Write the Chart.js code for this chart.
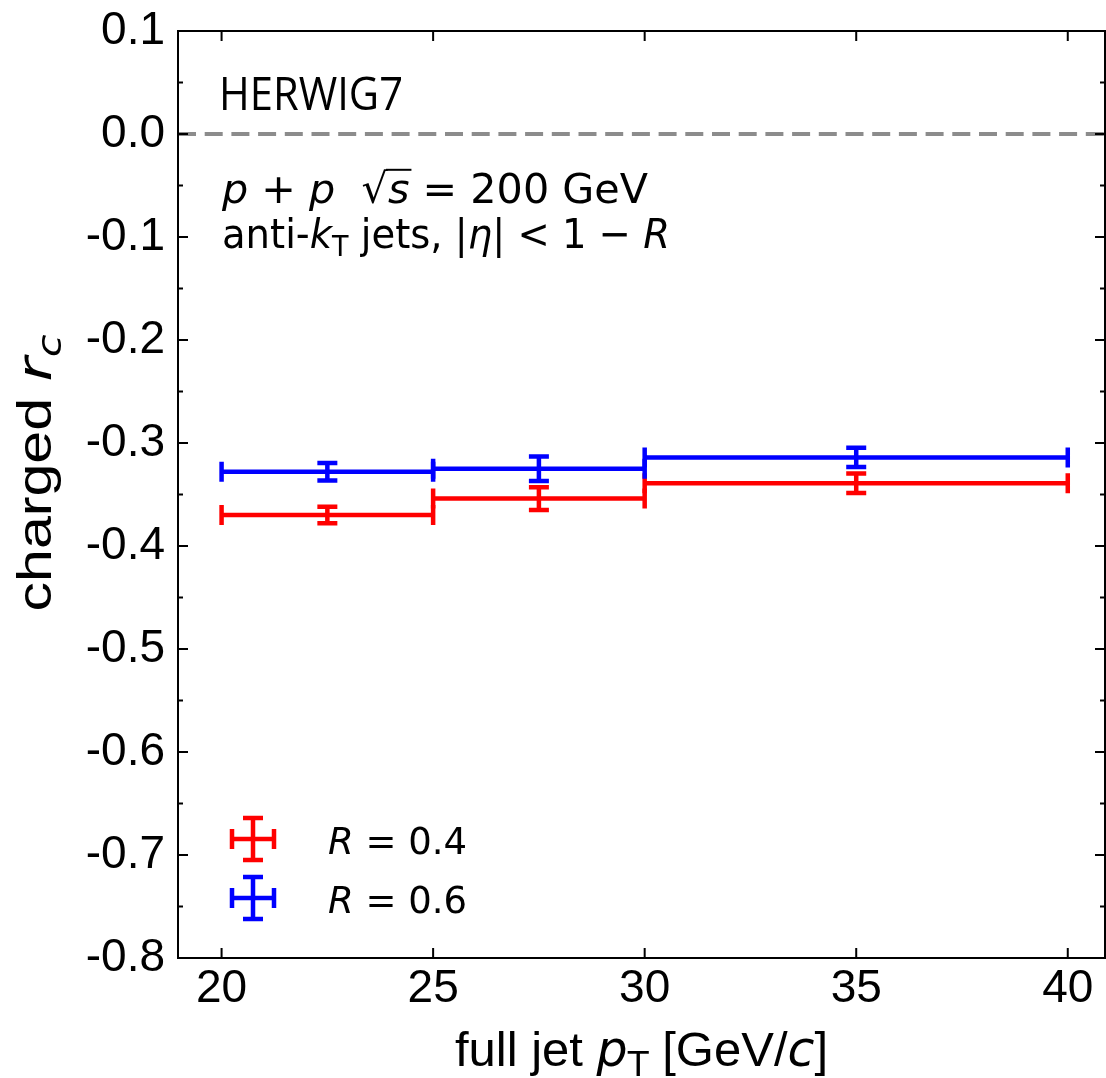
<!DOCTYPE html>
<html>
<head>
<meta charset="utf-8">
<script src="https://cdn.jsdelivr.net/npm/chart.js@4.4.1/dist/chart.umd.min.js"></script>
<style>
  html, body { margin: 0; padding: 0; background: #fff; }
</style>
</head>
<body>
<canvas id="chart" width="1106" height="1078"></canvas>
<script>
// full jet pT bins [GeV/c]
const binLow = [20, 25, 30];
const binHigh = [25, 30, 40];
const binCenter = [22.5, 27.5, 35];

// charged r_c, HERWIG7
const rc04 = [-0.370, -0.354, -0.339];
const rc04Err = [0.008, 0.011, 0.0095];
const rc06 = [-0.328, -0.325, -0.314];
const rc06Err = [0.0085, 0.012, 0.0094];

// axes
const xTicks = [20, 25, 30, 35, 40];
const yTicks = [0.1, 0.0, -0.1, -0.2, -0.3, -0.4, -0.5, -0.6, -0.7, -0.8];
const yMinorTicks = [0.05, -0.05, -0.15, -0.25, -0.35, -0.45, -0.55, -0.65, -0.75];

const SANS = "'Liberation Sans', Arial, Helvetica, sans-serif";
const MATH = "'DejaVu Sans', sans-serif";

const makeSeries = (ys, errs) => binCenter.map((x, i) => ({
  x: x, y: ys[i], xlo: binLow[i], xhi: binHigh[i], err: errs[i]
}));

// draw a row of text pieces: {t, it, sub, fam}
function richWidth(ctx, segs, size) {
  let w = 0;
  segs.forEach(s => {
    const px = s.sub ? size * 0.7 : size;
    ctx.font = (s.it ? 'italic ' : '') + px + 'px ' + (s.fam || MATH);
    w += ctx.measureText(s.t).width;
  });
  return w;
}
function drawRich(ctx, segs, x, y, size, align, fitWidth) {
  const total = richWidth(ctx, segs, size);
  const sx = fitWidth ? fitWidth / total : 1;
  ctx.save();
  ctx.translate(x, y);
  ctx.scale(sx, 1);
  let cx = align === 'center' ? -total / 2 : 0;
  ctx.textAlign = 'left';
  ctx.textBaseline = 'alphabetic';
  segs.forEach(s => {
    const px = s.sub ? size * 0.7 : size;
    ctx.font = (s.it ? 'italic ' : '') + px + 'px ' + (s.fam || MATH);
    const dy = s.sub ? size * 0.2 : 0;
    ctx.fillText(s.t, cx, dy);
    const w = ctx.measureText(s.t).width;
    if (s.over) {
      ctx.lineWidth = 2;
      ctx.beginPath();
      ctx.moveTo(cx - 2, -size * 0.80);
      ctx.lineTo(cx + w + 2, -size * 0.80);
      ctx.stroke();
    }
    cx += w;
  });
  ctx.restore();
}

function errorBar(ctx, xs, ys, d, color) {
  const x0 = xs.getPixelForValue(d.xlo), x1 = xs.getPixelForValue(d.xhi);
  const xc = xs.getPixelForValue(d.x), yc = ys.getPixelForValue(d.y);
  const ylo = ys.getPixelForValue(d.y - d.err), yhi = ys.getPixelForValue(d.y + d.err);
  ctx.strokeStyle = color;
  ctx.lineWidth = 4.5;
  ctx.beginPath();
  ctx.moveTo(x0, yc); ctx.lineTo(x1, yc);
  ctx.moveTo(x0, yc - 10); ctx.lineTo(x0, yc + 10);
  ctx.moveTo(x1, yc - 10); ctx.lineTo(x1, yc + 10);
  ctx.moveTo(xc, ylo); ctx.lineTo(xc, yhi);
  ctx.moveTo(xc - 10, ylo); ctx.lineTo(xc + 10, ylo);
  ctx.moveTo(xc - 10, yhi); ctx.lineTo(xc + 10, yhi);
  ctx.stroke();
}

const errorBarPlugin = {
  id: 'errorBars',
  beforeDatasetsDraw(chart) {
    const { ctx, chartArea: a, scales: { y } } = chart;
    const y0 = y.getPixelForValue(0);
    ctx.save();
    ctx.strokeStyle = '#8c8c8c';
    ctx.lineWidth = 4;
    ctx.setLineDash([18, 8.7]);
    ctx.beginPath();
    ctx.moveTo(a.left, y0); ctx.lineTo(a.right, y0);
    ctx.stroke();
    ctx.restore();
  },
  afterDatasetsDraw(chart) {
    const { ctx, chartArea: a, scales: { x, y } } = chart;
    ctx.save();
    chart.data.datasets.forEach(ds => {
      ds.data.forEach(d => errorBar(ctx, x, y, d, ds.borderColor));
    });

    // frame + inward ticks
    ctx.strokeStyle = '#000';
    ctx.lineWidth = 2;
    ctx.strokeRect(a.left, a.top, a.right - a.left, a.bottom - a.top);
    ctx.beginPath();
    xTicks.forEach(v => {
      const px = x.getPixelForValue(v);
      ctx.moveTo(px, a.bottom); ctx.lineTo(px, a.bottom - 10);
      ctx.moveTo(px, a.top); ctx.lineTo(px, a.top + 10);
    });
    yTicks.forEach(v => {
      const py = y.getPixelForValue(v);
      ctx.moveTo(a.left, py); ctx.lineTo(a.left + 10, py);
      ctx.moveTo(a.right, py); ctx.lineTo(a.right - 10, py);
    });
    yMinorTicks.forEach(v => {
      const py = y.getPixelForValue(v);
      ctx.moveTo(a.left, py); ctx.lineTo(a.left + 5, py);
      ctx.moveTo(a.right, py); ctx.lineTo(a.right - 5, py);
    });
    ctx.stroke();

    // axis titles
    ctx.fillStyle = '#000';
    ctx.strokeStyle = '#000';
    drawRich(ctx, [
      { t: 'full jet ', fam: SANS },
      { t: 'p', it: true },
      { t: 'T', sub: true },
      { t: ' [GeV/', fam: SANS },
      { t: 'c', it: true },
      { t: ']', fam: SANS }
    ], (a.left + a.right) / 2, 1066, 49, 'center');

    ctx.save();
    ctx.translate(51, 473);
    ctx.rotate(-Math.PI / 2);
    drawRich(ctx, [
      { t: 'charged ', fam: SANS },
      { t: 'r', it: true },
      { t: 'c', it: true, sub: true }
    ], 0, 0, 48, 'center', 277);
    ctx.restore();

    // annotations
    ctx.font = "45px 'Open Sans', sans-serif";
    ctx.textAlign = 'left';
    ctx.textBaseline = 'alphabetic';
    const hw = ctx.measureText('HERWIG7').width;
    ctx.save();
    ctx.translate(219, 110);
    ctx.scale(184 / hw, 1);
    ctx.fillText('HERWIG7', 0, 0);
    ctx.restore();
    drawRich(ctx, [
      { t: 'p', it: true }, { t: ' + ' }, { t: 'p', it: true }, { t: '  √' },
      { t: 's', it: true, over: true }, { t: ' = 200 GeV' }
    ], 222, 203, 41.5, 'left', 426);
    drawRich(ctx, [
      { t: 'anti-' }, { t: 'k', it: true }, { t: 'T', sub: true }, { t: ' jets, |' },
      { t: 'η', it: true }, { t: '| < 1 − ' }, { t: 'R', it: true }
    ], 222, 248, 41.5, 'left', 448);

    // legend
    const legendY = [839, 898];
    chart.data.datasets.forEach((ds, i) => {
      const cy = legendY[i], cx = 253;
      ctx.strokeStyle = ds.borderColor;
      ctx.lineWidth = 4.5;
      ctx.beginPath();
      ctx.moveTo(cx - 21, cy); ctx.lineTo(cx + 21, cy);
      ctx.moveTo(cx - 21, cy - 10); ctx.lineTo(cx - 21, cy + 10);
      ctx.moveTo(cx + 21, cy - 10); ctx.lineTo(cx + 21, cy + 10);
      ctx.moveTo(cx, cy - 21); ctx.lineTo(cx, cy + 21);
      ctx.moveTo(cx - 10, cy - 21); ctx.lineTo(cx + 10, cy - 21);
      ctx.moveTo(cx - 10, cy + 21); ctx.lineTo(cx + 10, cy + 21);
      ctx.stroke();
      drawRich(ctx, [{ t: 'R', it: true }, { t: ' = ' + ds.rValue }], 328, cy + 15, 37);
    });
    ctx.restore();
  }
};

const noPad = s => { s.paddingTop = 0; s.paddingBottom = 0; s.paddingLeft = 0; s.paddingRight = 0; };

new Chart(document.getElementById('chart'), {
  type: 'scatter',
  data: {
    datasets: [
      { label: 'R = 0.4', rValue: '0.4', data: makeSeries(rc04, rc04Err), borderColor: '#ff0000', backgroundColor: '#ff0000', pointRadius: 0 },
      { label: 'R = 0.6', rValue: '0.6', data: makeSeries(rc06, rc06Err), borderColor: '#0000ff', backgroundColor: '#0000ff', pointRadius: 0 }
    ]
  },
  options: {
    responsive: false,
    animation: false,
    layout: { padding: { top: 31, right: 1, left: 0, bottom: 0 } },
    plugins: { legend: { display: false }, tooltip: { enabled: false } },
    scales: {
      x: {
        type: 'linear', min: 18.97, max: 40.88,
        afterFit: s => { s.height = 120; noPad(s); },
        afterBuildTicks: s => { s.ticks = xTicks.map(v => ({ value: v })); },
        grid: { display: false, drawTicks: false },
        border: { display: false },
        ticks: { font: { family: SANS, size: 46 }, color: '#000', padding: 4, maxRotation: 0, autoSkip: false }
      },
      y: {
        min: -0.8, max: 0.1,
        afterFit: s => { s.width = 178; noPad(s); },
        afterBuildTicks: s => { s.ticks = yTicks.map(v => ({ value: v })); },
        grid: { display: false, drawTicks: false },
        border: { display: false },
        ticks: {
          font: { family: SANS, size: 46 }, color: '#000', padding: 13, autoSkip: false,
          callback: v => (Math.abs(v) < 1e-9 ? '0.0' : v.toFixed(1))
        }
      }
    }
  },
  plugins: [errorBarPlugin]
});
</script>
</body>
</html>
